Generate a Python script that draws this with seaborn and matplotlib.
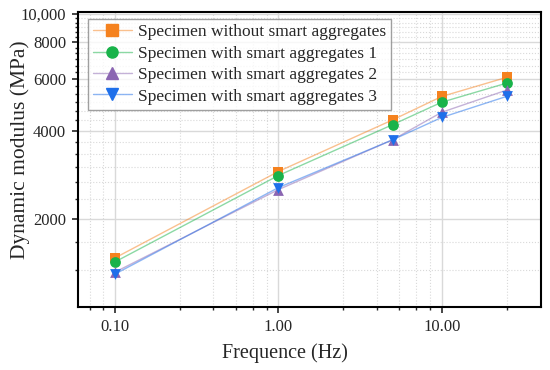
import numpy as np
import pandas as pd
import matplotlib
matplotlib.use('Agg')
import matplotlib.pyplot as plt
from matplotlib.lines import Line2D
from matplotlib.ticker import FixedLocator, FuncFormatter, NullFormatter
import seaborn as sns

# Datos (frecuencia en Hz, modulo dinamico en MPa)
frecuencias = [0.1, 1, 5, 10, 25]
sin_agregados = [1470, 2900, 4350, 5230, 6080]
con_agregados_1 = [1425, 2810, 4190, 5000, 5810]
con_agregados_2 = [1315, 2515, 3720, 4620, 5500]
con_agregados_3 = [1295, 2555, 3720, 4435, 5235]

series = [
    "Specimen without smart aggregates",
    "Specimen with smart aggregates 1",
    "Specimen with smart aggregates 2",
    "Specimen with smart aggregates 3",
]
valores = [sin_agregados, con_agregados_1, con_agregados_2, con_agregados_3]
colores = ["#F5821F", "#19B34A", "#8B66B2", "#1E6FEA"]
marcadores = ["s", "o", "^", "v"]

df = pd.DataFrame({
    "freq": np.tile(frecuencias, len(series)),
    "modulo": np.concatenate(valores),
    "serie": np.repeat(series, len(frecuencias)),
})

sns.set_style("white")
plt.rcParams['font.family'] = ['Liberation Serif', 'DejaVu Serif']

fig = plt.figure(figsize=(5.5, 3.7), dpi=100)
ax = fig.add_axes([0.1418, 0.1703, 0.8418, 0.7973])

# Lineas tenues + marcadores solidos
for nombre, c, m in zip(series, colores, marcadores):
    sub = df[df["serie"] == nombre]
    sns.lineplot(data=sub, x="freq", y="modulo", color=c, alpha=0.5, lw=1.0,
                 ax=ax, legend=False, zorder=3)
    sns.scatterplot(data=sub, x="freq", y="modulo", color=c, marker=m, s=60,
                    linewidth=0, ax=ax, legend=False, zorder=4)

ax.set_xscale("log")
ax.set_yscale("log")
ax.set_xlim(0.0594, 40.5)
ax.set_ylim(1000, 10160)

# Ticks estilo Origin (menores lineales dentro de cada intervalo)
ax.xaxis.set_major_locator(FixedLocator([0.1, 1, 10]))
ax.xaxis.set_major_formatter(FuncFormatter(lambda v, p: f"{v:.2f}"))
menores_x = [0.07, 0.085] + [0.1 + 0.15 * k for k in range(1, 6)] \
    + [1 + 1.5 * k for k in range(1, 6)] + [25]
ax.xaxis.set_minor_locator(FixedLocator(menores_x))
ax.xaxis.set_minor_formatter(NullFormatter())

ax.yaxis.set_major_locator(FixedLocator([2000, 4000, 6000, 8000, 10000]))
ax.yaxis.set_major_formatter(FuncFormatter(lambda v, p: "10,000" if v >= 10000 else f"{v:.0f}"))
menores_y = [1000 + 1000 / 3 * k for k in range(1, 27) if (1000 + 1000 / 3 * k) % 2000 > 1]
ax.yaxis.set_minor_locator(FixedLocator(menores_y))
ax.yaxis.set_minor_formatter(NullFormatter())

ax.grid(True, which="major", color="#D9D9D9", lw=1.0, ls="-", zorder=0)
ax.grid(True, which="minor", color="#D9D9D9", lw=0.8, ls=":", zorder=0)
ax.set_axisbelow(True)

ax.tick_params(axis="both", which="major", direction="out", length=4.5, width=1.2,
               labelsize=12, bottom=True, left=True, top=False, right=False, pad=4)
ax.tick_params(axis="both", which="minor", direction="out", length=2.5, width=1.0,
               bottom=True, left=True, top=False, right=False)
for s in ax.spines.values():
    s.set_color("black")
    s.set_linewidth(1.5)

ax.set_xlabel("Frequence (Hz)", fontsize=14.5)
ax.set_ylabel("Dynamic modulus (MPa)", fontsize=15.5)
ax.xaxis.set_label_coords(0.447, -0.158)
ax.yaxis.set_label_coords(-0.126, 0.532)
ax.yaxis.label.set_verticalalignment("center")
ax.xaxis.label.set_verticalalignment("center")

manijas = [Line2D([], [], color=matplotlib.colors.to_rgba(c, 0.5), lw=1.0, marker=m,
                  markersize=8, markerfacecolor=c, markeredgecolor=c)
           for c, m in zip(colores, marcadores)]
leg = ax.legend(manijas, series, loc="upper left", bbox_to_anchor=(0.022, 0.976),
                fontsize=12.5, frameon=True, fancybox=False, edgecolor="#888888",
                handlelength=2.2, handletextpad=0.35, borderpad=0.3, labelspacing=0.3,
                borderaxespad=0)
leg.get_frame().set_linewidth(1.0)

fig.savefig("out.png", dpi=100)
